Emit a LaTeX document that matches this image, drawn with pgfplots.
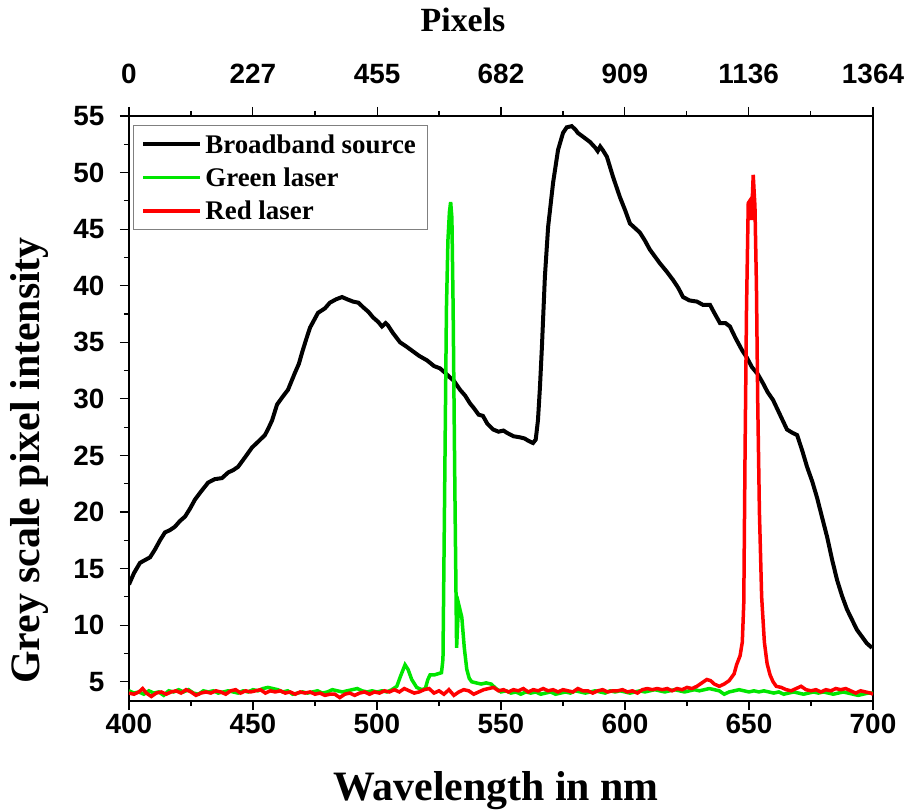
\documentclass[border=0pt]{standalone}
\usepackage{fontspec}
\setmainfont{Liberation Serif}
\setsansfont{Liberation Sans}
\usepackage{pgfplots}
\pgfplotsset{compat=1.18}
\begin{document}
\begin{tikzpicture}
\path[use as bounding box] (-129bp,-111bp) rectangle (775bp,701bp);
\begin{axis}[
  at={(0,0)}, anchor=south west, scale only axis,
  width=744bp, height=585bp,
  xmin=400, xmax=700, ymin=3.3, ymax=55,
  xtick={400,450,...,700}, ytick={5,10,...,55},
  minor xtick={425,475,...,675}, minor ytick={7.5,12.5,...,52.5},
  xtick pos=bottom, ytick pos=left, tick align=outside,
  major tick length=9bp, minor tick length=5bp,
  axis line style={line width=1.2bp},
  every tick/.style={black, line width=1.2bp},
  /pgf/number format/assume math mode=true,
  ticklabel style={font=\fontsize{28}{28}\selectfont\sffamily\bfseries},
  yticklabel style={xshift=-12bp},
  xlabel={Wavelength in nm},
  ylabel={Grey scale pixel intensity},
  xlabel style={at={(axis description cs:0.5,0)}, anchor=center, yshift=-90bp, xshift=-5bp, font=\fontsize{42}{42}\selectfont\bfseries},
  ylabel style={at={(axis description cs:0,0.5)}, anchor=center, yshift=99bp, xshift=-52bp, font=\fontsize{42}{42}\selectfont\bfseries},
  legend cell align=left,
  legend style={at={(axis description cs:0,1)}, anchor=north west, xshift=4bp, yshift=-9bp,
    draw=gray, line width=0.8bp, font=\fontsize{27}{27}\selectfont\bfseries,
    inner xsep=8bp, inner ysep=6bp, row sep=7bp,
    nodes={inner sep=3bp}},
  legend image code/.code={\draw[#1] (0bp,0bp) -- (57bp,0bp);},
]
\addplot[black, line width=4bp] coordinates {
(400,13.6) (402,14.6) (404.4,15.5) (406,15.7) (408.5,16.0) (410.5,16.7) (412.5,17.5) (414.5,18.2)
(416.5,18.4) (418.5,18.7) (420.5,19.2) (422.6,19.6) (424.6,20.3) (426.6,21.1) (429,21.8) (431.9,22.6)
(434.5,22.9) (437.5,23.0) (440,23.5) (442,23.7) (444,24.0) (447,24.9) (449.6,25.7) (452,26.2)
(454.8,26.8) (456,27.3) (457.7,28.1) (459.7,29.5) (462,30.2) (464.1,30.8) (466.9,32.3) (468.5,33.1)
(469.8,34.1) (471.5,35.3) (473,36.3) (476.2,37.6) (479,38.0) (481,38.5) (483.5,38.8) (485.9,39.0)
(488,38.8) (490.3,38.6) (492.5,38.5) (494.4,38.1) (496.5,37.7) (498.4,37.2) (500.5,36.8) (502,36.4)
(503.5,36.7) (504.4,36.5) (506.5,35.8) (509.3,35.0) (512,34.6) (514.5,34.2) (517,33.8) (520.2,33.4)
(523,32.9) (525.4,32.7) (527.5,32.3) (529.4,31.9) (531,31.6) (533.5,30.8) (535.5,30.3) (537.5,29.6)
(539,29.2) (541,28.6) (542.7,28.5) (544.5,27.8) (546.8,27.3) (549,27.1) (551,27.2) (552.4,27.0)
(555,26.7) (557.7,26.6) (559.5,26.5) (561,26.3) (562.9,26.1) (564,26.4) (564.9,28.1) (565.7,31)
(566.5,34.6) (567.7,40.8) (569,45.2) (571,49.1) (573,52) (575,53.5) (576.5,54.0) (578.5,54.1)
(580,53.8) (581,53.5) (583.5,53.1) (585.9,52.7) (588,52.2) (589,51.9) (590,52.3) (591,52.0)
(592.7,51.4) (595.2,49.6) (598,47.8) (600,46.7) (602,45.5) (604,45.1) (606,44.7) (608,44.0)
(610,43.2) (612,42.6) (614,42.0) (617,41.2) (619.4,40.5) (621.5,39.8) (623.4,39.0) (626,38.7)
(629,38.6) (631.5,38.3) (634.3,38.3) (636,37.6) (638.3,36.7) (640.5,36.7) (642.3,36.4) (644.5,35.4)
(647.2,34.3) (649,33.7) (651.2,32.8) (653.5,32.2) (655.6,31.4) (657.5,30.6) (659.7,29.9) (662.5,28.6)
(665.3,27.3) (667.5,27.0) (669.4,26.8) (671.5,25.4) (673.4,24.0) (675.5,22.7) (677.4,21.3) (679.5,19.5)
(681.5,17.8) (683.5,15.8) (685.5,14.0) (687.5,12.6) (689.5,11.4) (691.5,10.5) (693.5,9.6) (695.5,9.0)
(697.5,8.4) (699.6,8.0)
};
\addlegendentry{Broadband source}
\addplot[color={rgb,255:red,0;green,230;blue,0}, line width=3.5bp] coordinates {
(400,4.2) (402,4.0) (404,4.1) (406,3.9) (408,4.2) (410,4.0) (412,4.1) (414,3.8) (416,4.2) (418,4.1)
(420,4.3) (422,4.1) (424,4.3) (426,4.0) (428,3.9) (430,4.2) (432,4.1) (434,4.2) (436,4.0) (438,4.1)
(440,4.2) (442,4.1) (444,4.0) (446,4.2) (448,4.1) (450,4.3) (452,4.2) (454,4.4) (456,4.5) (458,4.4)
(460,4.3) (462,4.1) (464,4.2) (466,3.9) (468,4.0) (470,4.1) (472,4.0) (474,4.1) (476,4.2) (478,4.0)
(480,4.1) (482,4.3) (484,4.2) (486,4.1) (488,4.2) (490,4.3) (492,4.4) (494,4.2) (496,4.1) (498,4.2)
(500,4.1) (502,4.2) (504,4.1) (506,4.3) (508,4.6) (509.5,5.5) (511.3,6.5) (512.5,6.1) (514,5.2) (516,4.5)
(518,4.3) (519.5,4.4) (520.5,5.2) (521.4,5.6) (523,5.6) (524.5,5.7) (526,5.8) (526.6,7) (527.2,20) (528,38)
(528.6,44) (529.2,46.5) (529.7,47.4) (530.2,46) (530.7,38) (531.4,22) (532.1,8) (532.6,10.5) (533.1,11.7) (534.2,10.7)
(535.2,8) (536.2,6.1) (537.2,5.3) (538.2,5.0) (540,4.9) (542,4.8) (544,4.9) (546,4.8) (548,4.4) (550,4.1)
(552,4.2) (554,4.0) (556,4.1) (558,3.9) (560,4.1) (562,4.0) (564,4.1) (566,3.9) (568,4.0) (570,4.1)
(572,3.9) (574,4.0) (576,4.1) (578,4.0) (580,4.2) (582,4.1) (584,4.0) (586,4.1) (588,4.2) (590,4.1)
(592,4.0) (594,4.2) (596,4.1) (598,4.2) (600,4.1) (602,4.0) (604,4.1) (606,4.2) (608,4.1) (610,4.2)
(612,4.3) (614,4.2) (616,4.1) (618,4.2) (620,4.3) (622,4.2) (624,4.1) (626,4.2) (628,4.3) (630,4.2)
(632,4.3) (634,4.4) (636,4.3) (638,4.2) (640,3.9) (642,4.1) (644,4.2) (646,4.3) (648,4.2) (650,4.1)
(652,4.2) (654,4.1) (656,4.2) (658,4.1) (660,4.0) (662,4.1) (664,3.9) (666,4.0) (668,4.1) (670,4.0)
(672,3.9) (674,4.0) (676,4.1) (678,4.0) (680,4.1) (682,4.0) (684,3.9) (686,4.0) (688,4.1) (690,4.0)
(692,3.9) (694,3.8) (696,3.9) (698,4.0) (700,4.0)
};
\addlegendentry{Green laser}
\addplot[color={rgb,255:red,255;green,0;blue,0}, line width=3.5bp] coordinates {
(400,4.0) (402,3.9) (404,4.1) (405.5,4.4) (407,4.0) (409,3.7) (411,4.0) (413,4.1) (415,3.9) (417,4.1)
(419,4.2) (421,4.0) (423,4.3) (425,4.1) (427,3.8) (429,4.0) (431,4.1) (433,4.0) (435,4.2) (437,4.1)
(439,3.9) (441,4.2) (443,4.3) (445,4.0) (447,4.2) (449,4.1) (451,4.2) (453,4.3) (455,4.0) (457,4.2)
(459,4.1) (461,4.2) (463,4.0) (465,4.1) (467,3.9) (469,4.1) (471,4.0) (473,4.1) (475,3.9) (477,4.0)
(479,3.8) (481,3.9) (483,3.9) (485,3.6) (487,3.9) (489,4.0) (491,3.8) (493,4.0) (495,4.1) (497,3.9)
(499,4.1) (501,4.0) (503,4.2) (505,4.1) (507,4.3) (509,4.1) (511,4.4) (513,4.2) (515,4.0) (517,4.1)
(519,4.3) (521,4.4) (523,4.0) (525,4.2) (527,3.9) (529,4.3) (531,3.8) (533,4.1) (535,4.3) (537,4.2)
(539,3.9) (541,4.1) (543,4.3) (545,4.4) (547,4.5) (549,4.2) (551,4.3) (553,4.1) (555,4.3) (557,4.2)
(559,4.4) (561,4.1) (563,4.3) (565,4.2) (567,4.4) (569,4.2) (571,4.3) (573,4.1) (575,4.3) (577,4.2)
(579,4.1) (581,4.4) (583,4.2) (585,4.2) (587,4.0) (589,4.2) (591,4.3) (593,4.1) (595,4.2) (597,4.2)
(599,4.3) (601,4.1) (603,4.2) (605,4.0) (607,4.3) (609,4.4) (611,4.3) (613,4.4) (615,4.3) (617,4.4)
(619,4.2) (621,4.4) (623,4.3) (625,4.5) (627,4.4) (629,4.6) (631,4.9) (633,5.2) (634.5,5.1) (636,4.8)
(638,4.6) (640,4.8) (642,5.1) (644,5.7) (645,6.5) (646.4,7.3) (647.3,8.5) (647.9,12) (648.4,25) (649.0,38)
(649.7,47.3) (650.3,47.5) (651.0,45.8) (651.7,49.8) (652.4,47) (653.0,40) (653.5,30) (654.2,20) (655.1,12.5) (656.2,8.5)
(657.3,6.6) (658.5,5.6) (659.7,5.0) (661,4.6) (663,4.5) (665,4.3) (667,4.2) (669,4.4) (671,4.6) (673,4.3)
(675,4.2) (677,4.3) (679,4.1) (681,4.3) (683,4.2) (685,4.4) (687,4.3) (689,4.4) (691,4.2) (693,4.0)
(695,4.2) (697,4.1) (699,4.0) (700,3.9)
};
\addlegendentry{Red laser}
\end{axis}
\begin{axis}[
  at={(0,0)}, anchor=south west, scale only axis,
  width=744bp, height=585bp,
  xmin=0, xmax=1364, ymin=0, ymax=1,
  axis x line*=top, axis y line=none,
  xtick={0,227,455,682,909,1136,1364},
  xticklabels={0,227,455,682,909,1136,1364},
  minor xtick={113.5,341,568.5,795.5,1022.5,1250},
  tick align=outside,
  major tick length=9bp, minor tick length=5bp,
  axis line style={line width=1.2bp},
  every tick/.style={black, line width=1.2bp},
  xticklabel style={font=\fontsize{28}{28}\selectfont\sffamily\bfseries, yshift=20bp},
  xlabel={Pixels},
  xlabel style={at={(axis description cs:0.5,1)}, anchor=center, yshift=96bp, xshift=-38bp, font=\fontsize{34}{34}\selectfont\bfseries},
]
\end{axis}
\end{tikzpicture}
\end{document}
